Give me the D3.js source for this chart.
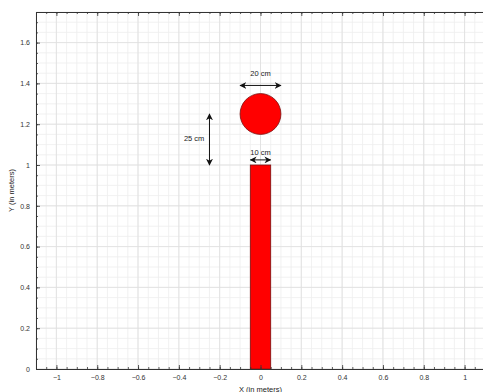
<!DOCTYPE html>
<html><head><meta charset="utf-8">
<script src="https://cdn.jsdelivr.net/npm/d3@7"></script>
<style>body{margin:0;background:#fff;}svg{display:block;}</style>
</head><body>
<svg id="c" width="483" height="392"></svg>
<script>
const xTicks = [-1, -0.8, -0.6, -0.4, -0.2, 0, 0.2, 0.4, 0.6, 0.8, 1];
const yTicks = [0, 0.2, 0.4, 0.6, 0.8, 1, 1.2, 1.4, 1.6];
const xDomain = [-1.1, 1.1];
const yDomain = [0, 1.75];
const pole = [{x0: -0.05, x1: 0.05, y0: 0, y1: 1}];
const ball = [{cx: 0, cy: 1.25, r: 0.1}];
const arrows = [
  {x0: -0.1, y0: 1.39, x1: 0.1, y1: 1.39, label: "20 cm", lx: 0, ly: 1.445, anchor: "middle"},
  {x0: -0.25, y0: 1.25, x1: -0.25, y1: 1.0, label: "25 cm", lx: -0.275, ly: 1.125, anchor: "end"},
  {x0: -0.05, y0: 1.025, x1: 0.05, y1: 1.025, label: "10 cm", lx: 0, ly: 1.058, anchor: "middle"}
];

const svg = d3.select("#c");
const L = 36, R = 485, T = 12, B = 369;
const x = d3.scaleLinear().domain(xDomain).range([L, R]);
const y = d3.scaleLinear().domain(yDomain).range([B, T]);

const minorX = d3.range(-1.1, 1.1001, 0.05).map(v => +v.toFixed(2));
const minorY = d3.range(0, 1.7501, 0.05).map(v => +v.toFixed(2));

// minor grid
svg.append("g").selectAll("line").data(minorX).join("line")
  .attr("x1", d => x(d)).attr("x2", d => x(d)).attr("y1", T).attr("y2", B)
  .attr("stroke", "#eeeeee").attr("stroke-width", 0.8);
svg.append("g").selectAll("line").data(minorY).join("line")
  .attr("y1", d => y(d)).attr("y2", d => y(d)).attr("x1", L).attr("x2", R)
  .attr("stroke", "#eeeeee").attr("stroke-width", 0.8);
// major grid
svg.append("g").selectAll("line").data(xTicks).join("line")
  .attr("x1", d => x(d)).attr("x2", d => x(d)).attr("y1", T).attr("y2", B)
  .attr("stroke", "#dedede").attr("stroke-width", 0.8);
svg.append("g").selectAll("line").data(yTicks).join("line")
  .attr("y1", d => y(d)).attr("y2", d => y(d)).attr("x1", L).attr("x2", R)
  .attr("stroke", "#dedede").attr("stroke-width", 0.8);

// shapes
svg.append("g").selectAll("rect").data(pole).join("rect")
  .attr("x", d => x(d.x0)).attr("y", d => y(d.y1))
  .attr("width", d => x(d.x1) - x(d.x0)).attr("height", d => y(d.y0) - y(d.y1))
  .attr("fill", "#ff0000").attr("stroke", "#7a1010").attr("stroke-width", 0.8);
svg.append("g").selectAll("circle").data(ball).join("circle")
  .attr("cx", d => x(d.cx)).attr("cy", d => y(d.cy))
  .attr("r", d => x(d.r) - x(0))
  .attr("fill", "#ff0000").attr("stroke", "#7a1010").attr("stroke-width", 0.8);

// arrows
const defs = svg.append("defs");
defs.append("marker").attr("id", "ah").attr("viewBox", "0 0 10 10")
  .attr("refX", 9).attr("refY", 5).attr("markerWidth", 7).attr("markerHeight", 7)
  .attr("orient", "auto-start-reverse").attr("markerUnits", "userSpaceOnUse")
  .append("path").attr("d", "M0,0 L10,5 L0,10 L3,5 Z").attr("fill", "#111");
const ag = svg.append("g");
ag.selectAll("line").data(arrows).join("line")
  .attr("x1", d => x(d.x0)).attr("y1", d => y(d.y0))
  .attr("x2", d => x(d.x1)).attr("y2", d => y(d.y1))
  .attr("stroke", "#111").attr("stroke-width", 1)
  .attr("marker-start", "url(#ah)").attr("marker-end", "url(#ah)");
ag.selectAll("text").data(arrows).join("text")
  .attr("x", d => x(d.lx)).attr("y", d => y(d.ly))
  .attr("text-anchor", d => d.anchor).attr("dominant-baseline", "middle")
  .attr("font-family", "Liberation Sans, Arial, sans-serif").attr("font-size", 7.5)
  .attr("fill", "#222").text(d => d.label);

// axes
const axColor = "#333";
const fmt = d => d3.format("~g")(d);
const gx = svg.append("g").attr("transform", `translate(0,${B})`)
  .call(d3.axisBottom(x).tickValues(xTicks).tickSize(-4).tickPadding(6).tickFormat(fmt));
const gxMinor = svg.append("g").attr("transform", `translate(0,${B})`)
  .call(d3.axisBottom(x).tickValues(minorX).tickSize(-2).tickFormat(""));
const gxt = svg.append("g").attr("transform", `translate(0,${T})`)
  .call(d3.axisTop(x).tickValues(xTicks).tickSize(-4).tickFormat(""));
const gxtMinor = svg.append("g").attr("transform", `translate(0,${T})`)
  .call(d3.axisTop(x).tickValues(minorX).tickSize(-2).tickFormat(""));
const gy = svg.append("g").attr("transform", `translate(${L},0)`)
  .call(d3.axisLeft(y).tickValues(yTicks).tickSize(-4).tickPadding(6).tickFormat(fmt));
const gyMinor = svg.append("g").attr("transform", `translate(${L},0)`)
  .call(d3.axisLeft(y).tickValues(minorY).tickSize(-2).tickFormat(""));
[gx, gxMinor, gxt, gxtMinor, gy, gyMinor].forEach(g => {
  g.select(".domain").attr("stroke", axColor).attr("stroke-width", 1);
  g.selectAll(".tick line").attr("stroke", axColor).attr("stroke-width", 0.8);
  g.selectAll("text").attr("font-family", "Liberation Sans, Arial, sans-serif")
    .attr("font-size", 7).attr("fill", "#333");
});

svg.append("text").attr("x", x(0)).attr("y", 391.5)
  .attr("text-anchor", "middle").attr("font-family", "Liberation Sans, Arial, sans-serif")
  .attr("font-size", 7.5).attr("fill", "#222").text("X (in meters)");
svg.append("text").attr("transform", `translate(12,${(T + B) / 2}) rotate(-90)`)
  .attr("text-anchor", "middle").attr("dominant-baseline", "middle")
  .attr("font-family", "Liberation Sans, Arial, sans-serif")
  .attr("font-size", 7.5).attr("fill", "#222").text("Y (in meters)");
</script>
</body></html>
